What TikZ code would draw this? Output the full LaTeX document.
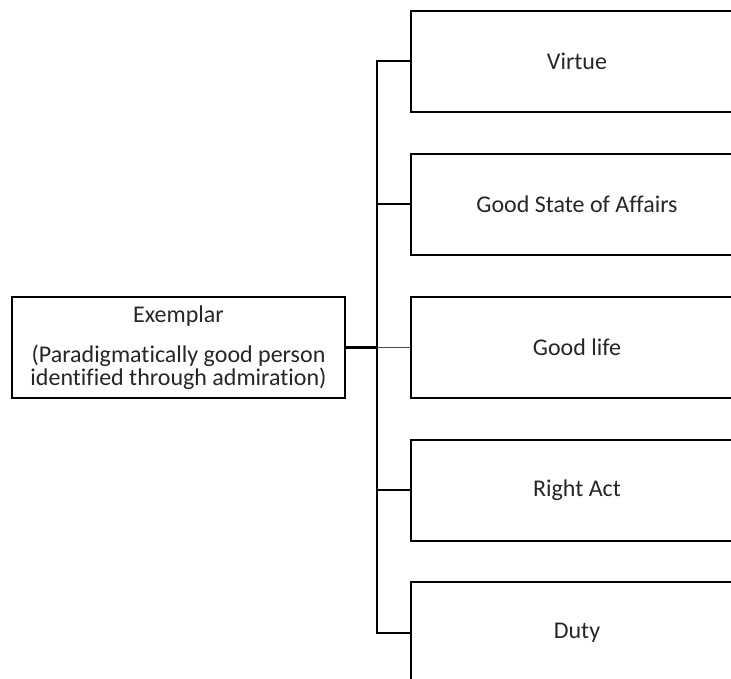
\documentclass[tikz,border=0pt]{standalone}
\usepackage{fontspec}
\setmainfont[Ligatures=NoCommon]{Carlito}
\usetikzlibrary{positioning}
\begin{document}
\begin{tikzpicture}[x=1pt, y=-1pt, font=\fontsize{24}{28}\selectfont,
  box/.style={draw, line width=2pt, minimum width=332pt, minimum height=101pt,
    inner sep=0pt, text=black!85, align=center},
  link/.style={line width=2pt}]
\useasboundingbox (0,0) rectangle (731,679);
\clip (0,0) rectangle (731,679);

% Exemplar
\node[box, minimum width=333pt, font=\fontsize{24}{22.5}\selectfont] (exemplar) at (178.5,347.5)
  {Exemplar\\[18pt](Paradigmatically good person\\identified through admiration)};

% Targets
\node[box] (virtue) at (577,61.5) {Virtue};
\node[box] (state) at (577,204.5) {Good State of Affairs};
\node[box] (life) at (577,347.5) {Good life};
\node[box] (act) at (577,490) {Right Act};
\node[box] (duty) at (577,632.5) {Duty};

% Bus
\draw[link] (virtue.west) -- ++(-33,0) |- (duty.west);
\draw[link] (state.west) -- ++(-33,0);
\draw[link] (act.west) -- ++(-33,0);
\draw[line width=1.5pt, black!70] (life.west) -- ++(-33,0) coordinate (busmid);
\draw[line width=3pt] (exemplar.east) -- (busmid);
\end{tikzpicture}
\end{document}
